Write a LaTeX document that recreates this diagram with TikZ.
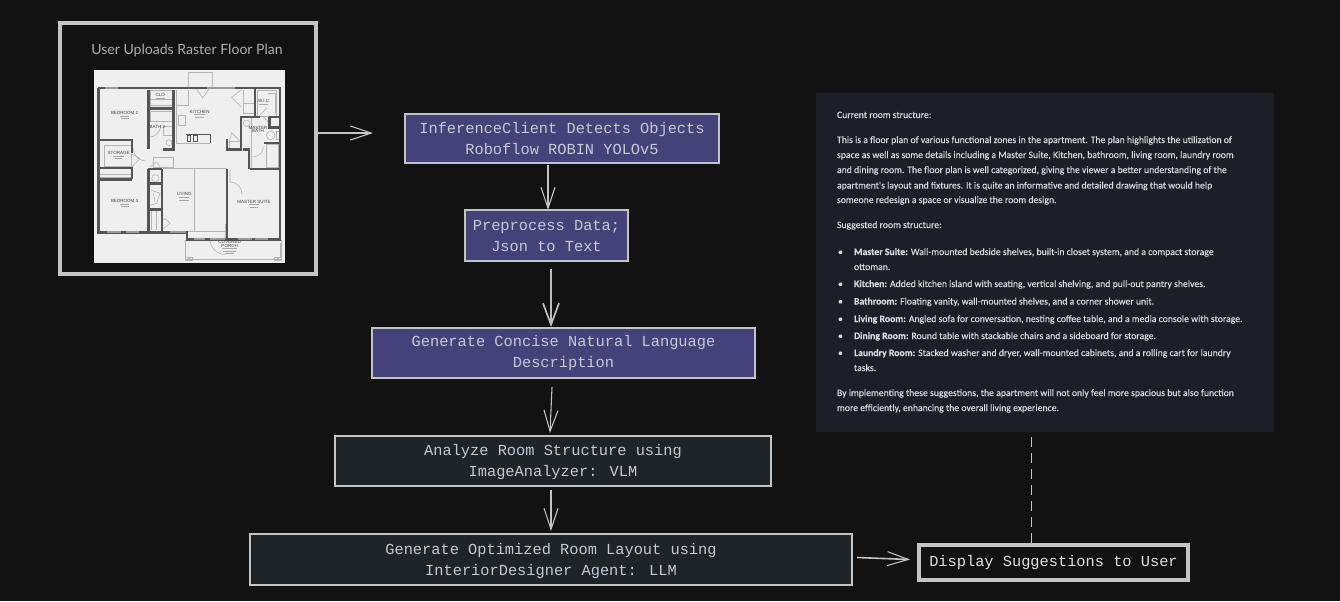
\documentclass[tikz,border=0pt]{standalone}
\usepackage{fontspec}
\setmainfont{Liberation Mono}
\newfontfamily\panelfont[FakeBold=0.25]{Carlito}
\newfontfamily\capfont{Lato}
\newfontfamily\planfont{Liberation Sans}
\usetikzlibrary{arrows.meta,calc}
\definecolor{bgc}{HTML}{121212}
\definecolor{edge}{HTML}{C4C4C4}
\definecolor{bluefill}{HTML}{43437A}
\definecolor{darkfill}{HTML}{1E2428}
\definecolor{paneldark}{HTML}{1C1F28}
\definecolor{paneltext}{HTML}{DADADA}
\definecolor{boxtext}{HTML}{C8C8D4}
\definecolor{planbg}{HTML}{EFEFEF}
\definecolor{wall}{HTML}{555555}
\definecolor{thinw}{HTML}{B4B4B4}
\tikzset{
  flow/.style={draw=edge,line width=1.3pt,align=center,outer sep=0pt,inner sep=0pt,text=boxtext,font=\fontsize{11.5}{15.75}\selectfont},
  bluebox/.style={flow,fill=bluefill},
  darkbox/.style={flow,fill=darkfill},
  showbox/.style={flow,fill=bgc,line width=2.3pt,text=white!88!black},
  outerbox/.style={draw=edge,line width=2.4pt,outer sep=0pt,inner sep=0pt},
  arr/.style={draw=edge,line width=.8pt,-{Straight Barb[length=15.75pt,width=10.5pt,line width=.8pt]}},
  arrthick/.style={draw=edge!110,line width=2.2pt,-{Straight Barb[length=16pt,width=12pt,line width=1.3pt]}},
  ptxt/.style={anchor=base west,inner sep=0pt,outer sep=0pt,text=paneltext,font=\panelfont\fontsize{7.3}{9}\selectfont},
  wl/.style={draw=wall,line width=1.75pt,line cap=square},
  wn/.style={draw=thinw,line width=.45pt},
  win/.style={draw=wall!60!white,line width=1.7pt},
  lab/.style={inner sep=0pt,text=black!75,font=\planfont\fontsize{3.4}{3.9}\selectfont,align=center},
  sub/.style={draw=black!35,line width=.7pt},
}
\begin{document}
\begin{tikzpicture}[x=.75pt,y=-.75pt]
\useasboundingbox (0,0) rectangle (1340,601);
\fill[bgc] (0,0) rectangle (1340,601);

% upload box
\node[outerbox,minimum width=192pt,minimum height=188.25pt] (upload) at (188,148.5) {};
\node[text=white!68!black,font=\capfont\fontsize{10.55}{12}\selectfont,inner sep=0pt] (uploadcap) at (187,50.5) {User Uploads Raster Floor Plan};

% floor plan (coordinates of a 3x enlargement)
\begin{scope}[shift={(50,10)},x=.25pt,y=-.25pt]
\fill[planbg] (132,180) rectangle (705,758);
% thin details
\draw[wn] (416,233) -- (416,187) -- (488,187) -- (488,233);
\draw[wn] (438,235) -- (458,264) -- (478,235);
\draw[wn] (300,240) rectangle (368,285);
\draw[wn] (300,268) -- (368,268);
\draw[wn] (302,305) rectangle (366,335);
\draw[wn] (378,240) -- (378,400) -- (480,400);
\draw[wn] (415,240) -- (415,285) -- (378,285);
\draw[wn] (340,350) rectangle (368,375);
\draw[wn] (357,398) circle (9);
\draw[wn] (385,316) rectangle (405,345);
\draw[wn] (250,415) arc (180:90:38);
\draw[wn] (295,382) arc (90:0:38);
\draw[wn] (163,405) rectangle (243,470);
\draw[wn] (245,432) -- (270,445) -- (245,472);
\draw[wn] (310,441) rectangle (370,472);
\draw[wn] (300,470) -- (320,456) -- (330,470);
\draw[wn] (150,492) -- (243,492);
\draw[wn] (150,503) -- (243,503);
\draw[wn] (340,474) -- (530,474);
\draw[wn] (433,474) -- (433,665);
\draw[wn] (335,665) -- (525,665);
\draw[wn] (316,505) circle (11);
\draw[wn] (302,540) -- (330,550) -- (320,580) -- (302,585);
\draw[wn] (310,550) -- (315,575);
\draw[wn] (318,602) -- (318,660);
\draw[wn] (303,602) -- (303,660);
\draw[wn] (335,660) -- (360,640) -- (345,625) -- (335,635);
\draw[wn] (480,688) arc (180:90:45);
\draw[wn] (525,643) -- (525,688);
\draw[wn] (538,418) -- (538,395) -- (570,395);
\draw[wn] (538,395) -- (545,368) -- (568,392);
\draw[wn] (573,240) -- (545,262) -- (572,290);
\draw[wn] (580,240) -- (580,310) -- (612,310) -- (612,240);
\draw[wn] (580,280) -- (612,280);
\draw[wn] (622,240) rectangle (678,318);
\draw[wn] (655,250) -- (675,250) -- (675,312);
\draw[wn] (628,316) -- (650,295);
\draw[wn] (590,340) circle (10);
\draw[wn] (604,320) -- (604,476);
\draw[wn] (610,440) arc (90:0:30);
\draw[wn] (662,376) circle (13);
\draw[wn] (678,364) rectangle (688,388);
\draw[wn] (650,402) rectangle (684,472);
\draw[wn] (640,320) -- (660,340);
\draw[wn] (540,480) -- (540,516) arc (-90:0:36);
\draw[wn] (405,690) -- (405,748) -- (695,748) -- (695,690);
\draw[wn] (690,700) -- (690,745);
\draw[wn] (406,741) rectangle (416,750);
\draw[wn] (418,741) rectangle (428,750);
\draw[wn] (672,741) rectangle (682,750);
\draw[wn] (684,741) rectangle (694,750);
% counter / sink
\draw[draw=wall,line width=.6pt] (408,372) -- (480,372) -- (480,398);
\fill[wall] (410,376) rectangle (424,396);
\fill[wall] (428,376) rectangle (444,396);
\fill[planbg] (413,379) rectangle (421,393);
\fill[planbg] (431,379) rectangle (441,393);
% walls
\draw[wl] (145,233) -- (692,233);
\draw[wl] (145,233) -- (145,667) -- (410,667) -- (410,688) -- (690,688) -- (690,233);
\draw[wl] (145,390) -- (245,390) -- (245,430);
\draw[wl] (150,474) -- (245,474) -- (245,508);
\draw[wl] (150,508) -- (245,508);
\draw[wl] (295,240) -- (295,418);
\draw[wl] (295,295) -- (370,295);
\draw[wl] (370,240) -- (370,418) -- (340,418);
\draw[wl] (295,476) -- (295,665);
\draw[wl] (335,476) -- (335,665);
\draw[wl] (295,476) -- (335,476);
\draw[wl] (295,520) -- (335,520);
\draw[wl] (295,598) -- (335,598);
\draw[wl] (530,478) -- (530,685);
\draw[wl] (600,476) -- (690,476);
\draw[wl] (530,388) -- (530,418) -- (572,418) -- (572,320) -- (630,320);
\draw[wl] (580,418) -- (597,418) -- (597,476);
\draw[wl] (615,236) -- (615,318);
\draw[wl] (658,320) -- (688,320);
\draw[wl] (658,320) -- (658,352) -- (688,352);
\draw[wl] (642,398) -- (688,398);
% windows
\draw[win] (165,233) -- (205,233);
\draw[win] (470,233) -- (555,233);
\draw[win] (172,667) -- (212,667);
\draw[win] (228,667) -- (268,667);
\draw[win] (360,667) -- (408,667);
\draw[win] (432,688) -- (465,688);
\draw[win] (480,688) -- (525,688);
\draw[win] (565,688) -- (605,688);
\draw[win] (615,688) -- (655,688);
% labels
\node[lab] (planA) at (224,309) {BEDROOM 2};
\node[lab] (planB) at (331,256) {CLO};
\node[lab] (planC) at (322,350) {BATH 2};
\node[lab] (planD) at (449,305) {KITCHEN};
\node[lab] (planE) at (206,429) {STORAGE};
\node[lab] (planF) at (224,574) {BEDROOM 3};
\node[lab] (planG) at (403,552) {LIVING};
\node[lab] (planH) at (612,575) {MASTER SUITE};
\node[lab] (planI) at (624,354) {MASTER};
\node[lab] (planJ) at (624,364) {BATH};
\node[lab] (planK) at (641,272) {W.I.C};
\node[lab] (planL) at (539,696) {COVERED};
\node[lab] (planM) at (539,707) {PORCH};
% illegible sub-lines
\draw[sub] (210,318) -- (238,318) (212,325) -- (236,325);
\draw[sub] (318,266) -- (344,266);
\draw[sub] (432,314) -- (466,314) (436,322) -- (462,322);
\draw[sub] (190,438) -- (222,438) (196,445) -- (216,445);
\draw[sub] (210,583) -- (238,583) (212,590) -- (236,590);
\draw[sub] (388,562) -- (418,562) (388,570) -- (418,570);
\draw[sub] (596,584) -- (628,584) (600,592) -- (624,592);
\draw[sub] (626,282) -- (654,282);
\draw[sub] (516,716) -- (562,716) (518,724) -- (558,724) (524,731) -- (552,731);
\end{scope}

% flow boxes
\node[bluebox,minimum width=235.5pt,minimum height=36.75pt] (detect) at (562,138.5) {InferenceClient Detects Objects\\Roboflow ROBIN YOLOv5};
\node[bluebox,minimum width=122.25pt,minimum height=38.25pt] (prep) at (546.5,235.5) {Preprocess Data;\\Json to Text};
\node[bluebox,minimum width=287.25pt,minimum height=37.5pt] (desc) at (563.5,353) {Generate Concise Natural Language~\\Description};
\node[darkbox,minimum width=327pt,minimum height=37.5pt] (room) at (553,461) {\rule{0pt}{9.5pt}Analyze Room Structure using~\\ImageAnalyzer: VLM};
\node[darkbox,minimum width=451.5pt,minimum height=38.25pt] (layout) at (551,559.5) {\rule{0pt}{11pt}Generate Optimized Room Layout using~\\InteriorDesigner Agent: LLM};
\node[showbox,minimum width=201.75pt,minimum height=26.25pt] (show) at (1053.5,562.5) {Display Suggestions to User};

% answer panel
\node[fill=paneldark,minimum width=343.5pt,minimum height=254.25pt,inner sep=0pt,outer sep=0pt] (panel) at (1045,262.5) {};
\node[ptxt] (t1) at (837,118) {Current room structure:};
\node[ptxt] (t2) at (837,143) {This is a floor plan of various functional zones in the apartment. The plan highlights the utilization of};
\node[ptxt] (t3) at (837,158) {space as well as some details including a Master Suite, Kitchen, bathroom, living room, laundry room};
\node[ptxt] (t4) at (837,173) {and dining room. The floor plan is well categorized, giving the viewer a better understanding of the};
\node[ptxt] (t5) at (837,188.5) {apartment's layout and fixtures. It is quite an informative and detailed drawing that would help};
\node[ptxt] (t6) at (837,203) {someone redesign a space or visualize the room design.};
\node[ptxt] (t7) at (837,228) {Suggested room structure:};
\node[ptxt] (b1) at (838,255) {•};
\node[ptxt] (t8) at (854,255) {\textbf{Master Suite:} Wall-mounted bedside shelves, built-in closet system, and a compact storage};
\node[ptxt] (t9) at (854,270) {ottoman.};
\node[ptxt] (b2) at (838,287) {•};
\node[ptxt] (t10) at (854,287) {\textbf{Kitchen:} Added kitchen island with seating, vertical shelving, and pull-out pantry shelves.};
\node[ptxt] (b3) at (838,304.5) {•};
\node[ptxt] (t11) at (854,304.5) {\textbf{Bathroom:} Floating vanity, wall-mounted shelves, and a corner shower unit.};
\node[ptxt] (b4) at (838,322) {•};
\node[ptxt] (t12) at (854,322) {\textbf{Living Room:} Angled sofa for conversation, nesting coffee table, and a media console with storage.};
\node[ptxt] (b5) at (838,339) {•};
\node[ptxt] (t13) at (854,339) {\textbf{Dining Room:} Round table with stackable chairs and a sideboard for storage.};
\node[ptxt] (b6) at (838,356) {•};
\node[ptxt] (t14) at (854,356) {\textbf{Laundry Room:} Stacked washer and dryer, wall-mounted cabinets, and a rolling cart for laundry};
\node[ptxt] (t15) at (854,371) {tasks.};
\node[ptxt] (t16) at (837,396) {By implementing these suggestions, the apartment will not only feel more spacious but also function};
\node[ptxt] (t17) at (837,411) {more efficiently, enhancing the overall living experience.};

% connectors
\draw[arr] ($(upload.east)+(2,-15.5)$) -- ($(detect.west)+(-32,-5.5)$);
\draw[arr] ($(detect.south)+(-14,2)$) -- ($(prep.north)+(1.5,0)$);
\draw[arrthick] ($(prep.south)+(4.5,8)$) -- ($(desc.north)+(-12.5,-1)$);
\draw[arr] ($(desc.south)+(-11.5,9)$) -- ($(room.north)+(-3,-3)$);
\draw[arr] ($(room.south)+(-2,4)$) -- ($(layout.north)+(0,-3)$);
\draw[arr,line width=1.2pt] ($(layout.east)+(5,-2)$) -- ($(show.west)+(-9,-3)$);
\draw[draw=edge,line width=.6pt,dash pattern=on 7.5pt off 4.5pt] ($(show.north)+(-22.5,-2)$) -- ($(panel.south)+(-14,5)$);
\end{tikzpicture}
\end{document}
